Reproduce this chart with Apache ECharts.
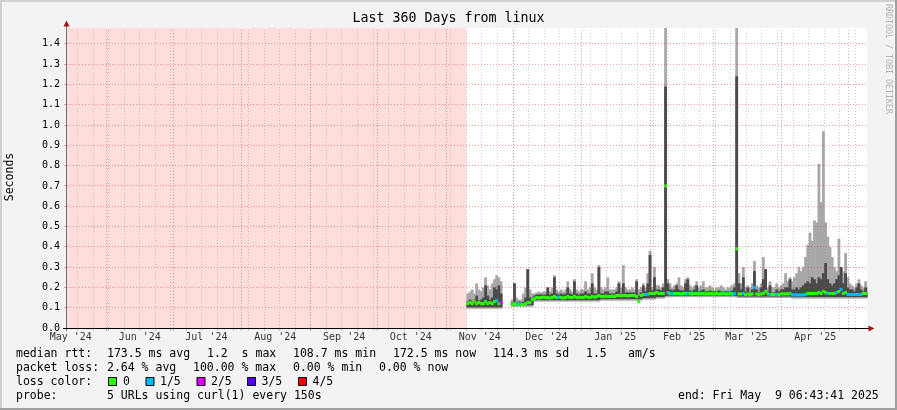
<!DOCTYPE html>
<html><head><meta charset="utf-8">
<script src="https://cdn.jsdelivr.net/npm/echarts@6/dist/echarts.min.js"></script>
<style>html,body{margin:0;padding:0;background:#f3f3f3}#c{width:897px;height:410px}</style>
</head><body><div id="c"></div>
<script>
// ---------- time frame ----------
const startTs = Date.UTC(2024, 4, 14, 6, 43, 41);
const endTs   = Date.UTC(2025, 4, 9, 6, 43, 41);
const dataStartDate = '2024-11-10';           // first day of measurements (everything before is "unknown")
const DAY = 86400000;

// ---------- axis texts ----------
const monthLabels = ["May '24","Jun '24","Jul '24","Aug '24","Sep '24","Oct '24","Nov '24","Dec '24","Jan '25","Feb '25","Mar '25","Apr '25"];
const monthLabelDates = ['2024-05-16','2024-06-16','2024-07-16','2024-08-16','2024-09-16','2024-10-16','2024-11-16','2024-12-16','2025-01-16','2025-02-16','2025-03-16','2025-04-16'];
const monthStarts = ['2024-06-01','2024-07-01','2024-08-01','2024-09-01','2024-10-01','2024-11-01','2024-12-01','2025-01-01','2025-02-01','2025-03-01','2025-04-01','2025-05-01'];
const firstSunday = '2024-05-19';
const yGrid = [0.1,0.2,0.3,0.4,0.5,0.6,0.7,0.8,0.9,1.0,1.1,1.2,1.3,1.4];

// ---------- daily data from 2024-11-10 (index 0) to 2025-05-09 (index 180), seconds ----------
const smokeLow = [
 0.095,0.095,0.095,0.095,0.095,0.095,0.095,0.095,0.095,0.095,0.095,0.095,0.095,0.095,0.095,0.095,
 null,null,null,null,
 0.105,0.105,0.105,0.105,0.105,0.105,0.105,0.105,0.105,0.105,
 0.13,0.13,0.13,0.13,0.13,0.13,0.13,0.13,0.13,0.13,
 0.13,0.13,0.13,0.13,0.13,0.13,0.13,0.13,0.13,0.13,
 0.13,0.13,0.13,0.13,0.13,0.13,0.13,0.13,0.13,0.13,
 0.135,0.135,0.135,0.135,0.135,0.135,0.135,0.135,0.135,0.135,
 0.135,0.135,0.135,0.135,0.135,0.135,0.135,0.135,0.135,0.14,
 0.14,0.14,0.14,0.14,0.14,0.145,0.145,0.145,0.145,
 0.15,
 0.152,0.152,0.152,0.152,0.152,0.152,0.152,0.152,0.152,0.152,
 0.152,0.152,0.152,0.152,0.152,0.152,0.152,0.152,0.152,0.152,
 0.152,0.152,0.152,0.152,0.152,0.152,0.152,0.152,0.152,0.152,0.152,
 0.15,
 0.148,0.148,0.148,0.148,0.148,0.148,0.148,0.148,0.148,0.148,
 0.148,0.148,0.148,0.148,0.148,0.148,0.148,0.148,0.148,0.148,
 0.148,0.148,0.148,0.148,
 0.145,0.145,0.145,0.145,0.145,0.145,0.145,0.145,0.145,0.145,
 0.145,0.145,0.145,0.145,0.145,0.145,0.145,0.145,0.145,0.145,
 0.145,0.145,0.145,0.145,0.145,0.145,0.145,0.145,0.145,0.145,
 0.145,0.145,0.145,0.145,0.145
];
const smokeHigh = [
 0.17,0.18,0.19,0.17,0.22,0.19,0.18,0.20,0.25,0.21,0.19,0.22,0.24,0.26,0.25,0.23,
 null,null,null,null,
 0.14,0.22,0.15,0.14,0.14,0.17,0.20,0.29,0.19,0.17,
 0.17,0.175,0.18,0.175,0.18,0.18,0.20,0.18,0.20,0.26,
 0.19,0.18,0.19,0.18,0.19,0.23,0.19,0.18,0.24,0.19,
 0.18,0.19,0.19,0.23,0.19,0.20,0.27,0.20,0.19,0.31,
 0.20,0.19,0.20,0.25,0.19,0.19,0.19,0.20,0.23,0.20,
 0.31,0.20,0.19,0.19,0.20,0.19,0.24,0.19,0.20,0.22,
 0.20,0.27,0.38,0.20,0.30,0.21,0.21,0.20,0.22,
 1.60,
 0.24,0.22,0.20,0.21,0.22,0.25,0.21,0.20,0.24,0.25,
 0.21,0.20,0.21,0.23,0.20,0.21,0.23,0.20,0.20,0.21,
 0.20,0.19,0.20,0.20,0.21,0.20,0.19,0.20,0.20,0.21,0.22,
 1.60,
 0.27,0.22,0.30,0.20,0.21,0.20,0.22,0.33,0.21,0.20,
 0.22,0.35,0.29,0.20,0.23,0.20,0.20,0.22,0.20,0.21,
 0.22,0.27,0.23,0.25,
 0.23,0.25,0.27,0.30,0.28,0.30,0.35,0.41,0.47,0.43,
 0.53,0.52,0.81,0.62,0.97,0.52,0.45,0.40,0.35,0.30,
 0.28,0.44,0.30,0.28,0.37,0.25,0.22,0.21,0.20,0.22,
 0.24,0.21,0.20,0.23,0.20
];
const smokeDark = [
 0.13,0.14,0.13,0.14,0.16,0.135,0.14,0.15,0.21,0.16,0.14,0.15,0.20,0.19,0.21,0.17,
 null,null,null,null,
 0.125,0.22,0.125,0.13,0.125,0.13,0.15,0.29,0.15,0.15,
 0.16,0.165,0.165,0.165,0.165,0.165,0.20,0.165,0.17,0.25,
 0.17,0.165,0.17,0.165,0.17,0.20,0.17,0.165,0.23,0.17,
 0.165,0.17,0.17,0.18,0.17,0.17,0.22,0.17,0.17,0.30,
 0.17,0.17,0.18,0.18,0.17,0.17,0.17,0.18,0.22,0.17,
 0.22,0.175,0.175,0.175,0.175,0.175,0.23,0.16,0.175,0.21,
 0.18,0.22,0.36,0.185,0.25,0.19,0.19,0.185,0.20,
 1.19,
 0.22,0.19,0.185,0.19,0.21,0.19,0.185,0.185,0.22,0.24,
 0.185,0.18,0.19,0.21,0.18,0.185,0.19,0.18,0.18,0.185,
 0.18,0.18,0.18,0.185,0.18,0.18,0.18,0.18,0.18,0.185,0.20,
 1.24,
 0.22,0.19,0.25,0.18,0.20,0.175,0.19,0.28,0.19,0.175,
 0.20,0.24,0.29,0.18,0.21,0.175,0.175,0.19,0.18,0.19,
 0.19,0.20,0.20,0.24,
 0.19,0.19,0.20,0.19,0.20,0.21,0.22,0.23,0.22,0.25,
 0.24,0.22,0.25,0.24,0.27,0.32,0.24,0.22,0.21,0.22,
 0.24,0.26,0.30,0.22,0.27,0.20,0.19,0.19,0.18,0.20,
 0.22,0.19,0.18,0.20,0.18
];
const medianRtt = [
 0.12,0.125,0.12,0.13,0.12,0.125,0.12,0.12,0.13,0.12,0.125,0.12,0.13,0.135,0.12,0.125,
 null,null,null,null,
 0.115,0.12,0.115,0.12,0.115,0.115,0.12,0.125,0.125,0.14,
 0.145,0.15,0.148,0.15,0.152,0.15,0.15,0.148,0.15,0.155,
 0.15,0.152,0.15,0.148,0.15,0.155,0.15,0.15,0.155,0.15,
 0.152,0.15,0.15,0.155,0.152,0.15,0.155,0.152,0.155,0.16,
 0.155,0.155,0.157,0.155,0.155,0.157,0.155,0.16,0.16,0.158,
 0.16,0.16,0.158,0.16,0.16,0.16,0.155,0.13,0.16,0.165,
 0.165,0.165,0.17,0.17,0.17,0.175,0.17,0.17,0.17,
 0.70,
 0.175,0.17,0.17,0.17,0.17,0.17,0.168,0.17,0.17,0.172,
 0.17,0.168,0.17,0.17,0.168,0.17,0.17,0.168,0.168,0.17,
 0.168,0.168,0.17,0.168,0.168,0.17,0.168,0.168,0.17,0.168,0.17,
 0.39,
 0.168,0.168,0.17,0.165,0.168,0.165,0.168,0.20,0.168,0.165,
 0.168,0.17,0.18,0.168,0.165,0.165,0.165,0.165,0.165,0.168,
 0.168,0.168,0.168,0.17,
 0.163,0.163,0.163,0.163,0.163,0.163,0.165,0.17,0.17,0.17,
 0.17,0.17,0.175,0.17,0.18,0.175,0.17,0.17,0.17,0.17,
 0.175,0.18,0.19,0.17,0.175,0.165,0.165,0.165,0.165,0.165,
 0.165,0.165,0.17,0.17,0.17
];
// lost probes out of 5 (colour of the median)
const lossCount = [
 0,0,0,0,0,0,0,0,0,0,0,0,0,1,0,2,
 0,0,0,0,
 0,0,0,1,0,0,0,0,0,0,
 0,0,0,0,0,0,0,0,0,0,
 0,1,0,0,0,0,0,0,0,0,
 0,0,0,0,0,0,0,0,0,0,
 0,0,0,0,0,0,0,0,0,0,
 0,0,0,0,0,0,0,0,0,0,
 1,1,0,0,0,0,0,0,0,
 0,
 1,0,1,0,0,0,0,0,0,1,
 0,0,0,0,0,0,0,0,0,0,
 0,0,0,0,0,0,0,0,0,0,1,
 0,
 0,0,1,0,0,0,0,1,0,0,
 0,0,0,0,1,0,0,1,0,0,
 0,0,0,0,
 1,1,1,1,1,1,1,0,0,0,
 0,0,0,0,0,0,1,0,0,0,
 1,0,1,0,0,1,1,1,1,1,
 1,1,0,0,0
];
const lossColors = ['#26ff00','#00b8ff','#dd00ff','#5500ff','#ff0000'];
const lossLegend = ['0','1/5','2/5','3/5','4/5'];

// ---------- helpers ----------
const toDay = s => (Date.parse(s + 'T00:00:00Z') - startTs) / DAY;
const X_MAX = (endTs - startTs) / DAY;
const Y_MAX = 1.478;
const day0 = toDay(dataStartDate);

const weekDays = [];
for (let t = Date.parse(firstSunday + 'T00:00:00Z'); t < endTs; t += 7 * DAY) weekDays.push((t - startTs) / DAY);

const lightData = [], darkData = [], medData = [];
for (let i = 0; i < medianRtt.length; i++) {
  const x = day0 + i;
  if (smokeHigh[i] != null) lightData.push([x, smokeLow[i], smokeHigh[i]]);
  if (smokeDark[i] != null) darkData.push([x, smokeLow[i], smokeDark[i]]);
  if (medianRtt[i] != null) medData.push([x, medianRtt[i], lossCount[i]]);
}

function bandRender(color, insetBottom) {
  return function (params, api) {
    const x = api.value(0);
    const a = api.value(1), b = Math.min(api.value(2), Y_MAX);
    const p0 = api.coord([x, b]);
    const p1 = api.coord([Math.min(x + 1, X_MAX), a]);
    const h = p1[1] - p0[1] - insetBottom;
    if (h <= 0) return null;
    return { type: 'rect', shape: { x: p0[0], y: p0[1], width: p1[0] - p0[0] + 0.6, height: h },
             style: { fill: color } };
  };
}

function vLineRender(color) {
  return function (params, api) {
    const d = api.value(0);
    const p0 = api.coord([d, 0]), p1 = api.coord([d, Y_MAX]);
    const x = Math.floor(p0[0]) + 0.5;
    return { type: 'group', children: [
      { type: 'line', shape: { x1: x, y1: p0[1], x2: x, y2: p1[1] }, style: { stroke: color, lineWidth: 1, lineDash: [1, 2] } },
      { type: 'line', shape: { x1: x, y1: p0[1], x2: x, y2: p0[1] + 3 }, style: { stroke: color, lineWidth: 1 } }
    ]};
  };
}
function hLineRender(color) {
  return function (params, api) {
    const v = api.value(1);
    const p0 = api.coord([0, v]), p1 = api.coord([X_MAX, v]);
    const y = Math.floor(p0[1]) + 0.5;
    return { type: 'group', children: [
      { type: 'line', shape: { x1: p0[0], y1: y, x2: p1[0], y2: y }, style: { stroke: color, lineWidth: 1, lineDash: [1, 2] } },
      { type: 'line', shape: { x1: p0[0] - 3, y1: y, x2: p0[0], y2: y }, style: { stroke: color, lineWidth: 1 } }
    ]};
  };
}

const MONO = '"DejaVu Sans Mono", monospace';
const RED_GRID = 'rgba(225,40,40,0.45)';
const GRAY_GRID = 'rgba(120,120,120,0.35)';

const chart = echarts.init(document.getElementById('c'), null, { renderer: 'canvas', width: 897, height: 410 });

// legend / text graphics
const txt = (x, y, s, extra) => Object.assign({ type: 'text', x: x, y: y, z: 50,
  style: { text: s, font: '11.5px ' + MONO, fill: '#000', verticalAlign: 'middle' } }, extra || {});
const legendLines = [
  [354, [[16,'median rtt:'],[107,'173.5 ms avg'],[207,'1.2  s max'],[293,'108.7 ms min'],[393,'172.5 ms now'],[493,'114.3 ms sd'],[586,'1.5'],[628,'am/s']]],
  [368, [[16,'packet loss:'],[107,'2.64 % avg'],[193,'100.00 % max'],[293,'0.00 % min'],[379,'0.00 % now']]],
  [382, [[16,'loss color:']]],
  [396, [[16,'probe:'],[107,'5 URLs using curl(1) every 150s'],[678,'end: Fri May  9 06:43:41 2025']]]
];
const graphics = [
  // frame
  { type: 'rect', shape: { x: 0, y: 0, width: 897, height: 2 }, style: { fill: '#d0d0d0' }, z: 40 },
  { type: 'rect', shape: { x: 0, y: 0, width: 2, height: 410 }, style: { fill: '#d0d0d0' }, z: 40 },
  { type: 'rect', shape: { x: 0, y: 408, width: 897, height: 2 }, style: { fill: '#a0a0a0' }, z: 40 },
  { type: 'rect', shape: { x: 895, y: 0, width: 2, height: 410 }, style: { fill: '#a0a0a0' }, z: 40 },
  // axes
  { type: 'line', shape: { x1: 66.5, y1: 24, x2: 66.5, y2: 331 }, style: { stroke: '#707070', lineWidth: 1 }, z: 45 },
  { type: 'line', shape: { x1: 63, y1: 328.5, x2: 869, y2: 328.5 }, style: { stroke: '#000', lineWidth: 1 }, z: 45 },
  { type: 'polygon', shape: { points: [[66.5, 20.5], [63.5, 26.5], [69.5, 26.5]] }, style: { fill: '#a01818' }, z: 46 },
  { type: 'polygon', shape: { points: [[874.5, 328.5], [868.5, 325.5], [868.5, 331.5]] }, style: { fill: '#a01818' }, z: 46 },
  // titles
  { type: 'text', x: 448.5, y: 19, z: 50, style: { text: 'Last 360 Days from linux', font: '13.3px ' + MONO, fill: '#000', align: 'center', verticalAlign: 'middle' } },
  { type: 'text', x: 10, y: 177, rotation: Math.PI / 2, z: 50, style: { text: 'Seconds', font: '11.5px ' + MONO, fill: '#000', align: 'center', verticalAlign: 'middle' } },
  { type: 'text', x: 888, y: 59, rotation: -Math.PI / 2, z: 50, style: { text: 'RRDTOOL / TOBI OETIKER', font: '8.3px ' + MONO, fill: '#b4b4b4', align: 'center', verticalAlign: 'middle' } }
];
legendLines.forEach(([y, items]) => items.forEach(([x, s]) => graphics.push(txt(x, y, s))));
const boxX = [108, 145.5, 196.5, 247, 298];
const boxTextX = [123, 160, 211, 261.5, 312.5];
lossLegend.forEach((s, k) => {
  graphics.push({ type: 'rect', z: 50, shape: { x: boxX[k] + 0.5, y: 377.5, width: 8, height: 8 }, style: { fill: lossColors[k], stroke: '#000', lineWidth: 1 } });
  graphics.push(txt(boxTextX[k], 382, s));
});

const option = {
  animation: false,
  backgroundColor: '#f3f3f3',
  grid: { left: 67, top: 28, width: 800, height: 300, show: true, backgroundColor: '#ffffff', borderWidth: 0 },
  xAxis: { type: 'value', min: 0, max: X_MAX, axisLine: { show: false }, axisTick: { show: false }, axisLabel: { show: false }, splitLine: { show: false } },
  yAxis: { type: 'value', min: 0, max: Y_MAX, interval: 0.1,
    axisLine: { show: false }, axisTick: { show: false }, splitLine: { show: false },
    axisLabel: { margin: 7, fontFamily: MONO, fontSize: 10, color: '#000',
      formatter: v => (Math.abs(v * 10 - Math.round(v * 10)) < 1e-6 ? v.toFixed(1) : '') } },
  graphic: graphics,
  series: [
    { type: 'custom', name: 'unknown', z: 1, silent: true, data: [[0, day0]],
      renderItem: (p, api) => { const a = api.coord([api.value(0), Y_MAX]), b = api.coord([api.value(1), 0]);
        return { type: 'rect', shape: { x: a[0], y: a[1], width: b[0] - a[0], height: b[1] - a[1] }, style: { fill: '#ffdddd' } }; } },
    { type: 'custom', name: 'smoke', z: 3, silent: true, data: lightData, encode: { x: 0, y: [1, 2] }, renderItem: bandRender('#a8a8a8', 0) },
    { type: 'custom', name: 'smoke dark', z: 4, silent: true, data: darkData, encode: { x: 0, y: [1, 2] }, renderItem: bandRender('#4a4a4a', 1.5) },
    { type: 'custom', name: 'weeks', z: 5, silent: true, data: weekDays.map(d => [d, 0]), renderItem: vLineRender(GRAY_GRID) },
    { type: 'custom', name: 'months', z: 6, silent: true, data: monthStarts.map(s => [toDay(s), 0]), renderItem: vLineRender(RED_GRID) },
    { type: 'custom', name: 'ygrid', z: 6, silent: true, data: yGrid.map(v => [0, v]), renderItem: hLineRender(RED_GRID) },
    { type: 'custom', name: 'median', z: 8, silent: true, data: medData, encode: { x: 0, y: 1 },
      renderItem: (p, api) => {
        const x = api.value(0), v = api.value(1), l = api.value(2);
        const a = api.coord([x, v]), b = api.coord([Math.min(x + 1, X_MAX), v]);
        return { type: 'rect', shape: { x: a[0], y: a[1] - 1.5, width: b[0] - a[0] + 0.6, height: 3 }, style: { fill: lossColors[l] } };
      } },
    { type: 'scatter', name: 'months labels', z: 9, silent: true, symbolSize: 0.01,
      data: monthLabelDates.map(s => [toDay(s), 0]),
      label: { show: true, position: 'bottom', distance: 4, formatter: p => monthLabels[p.dataIndex],
        fontFamily: MONO, fontSize: 10, color: '#000' } }
  ]
};
chart.setOption(option);
</script>
</body></html>
